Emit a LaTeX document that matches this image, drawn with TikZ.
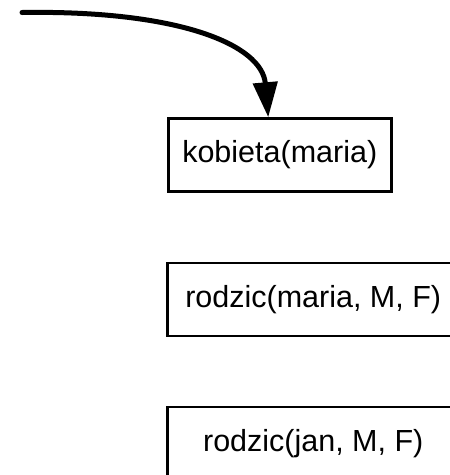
\documentclass[tikz,border=0pt]{standalone}
\usepackage{fontspec}
\setmainfont{Liberation Sans}
\usetikzlibrary{arrows.meta}
\begin{document}
\begin{tikzpicture}[x=1pt,y=-1pt,
  goal/.style={draw, line width=2.5pt, minimum height=73pt, inner sep=0pt,
    font=\fontsize{30.5}{36}\selectfont, anchor=west},
  flow/.style={line width=5pt, line cap=round, -{Triangle[length=35pt,width=24pt]}}]
\useasboundingbox (0,0) rectangle (450,475);
\clip (0,0) rectangle (450,475);
\node[goal, minimum width=223pt] (k) at (167,155) {kobieta(maria)};
\node[goal, minimum width=292pt] (r1) at (166,299.5) {rodzic(maria, M, F)};
\node[goal, minimum width=292pt] (r2) at (166,443.5) {rodzic(jan, M, F)};
\coordinate (start) at (22,12.5);
\draw[flow] (start) .. controls (180,10) and (262,45) .. ([xshift=-11.5pt]k.north);
\end{tikzpicture}
\end{document}
